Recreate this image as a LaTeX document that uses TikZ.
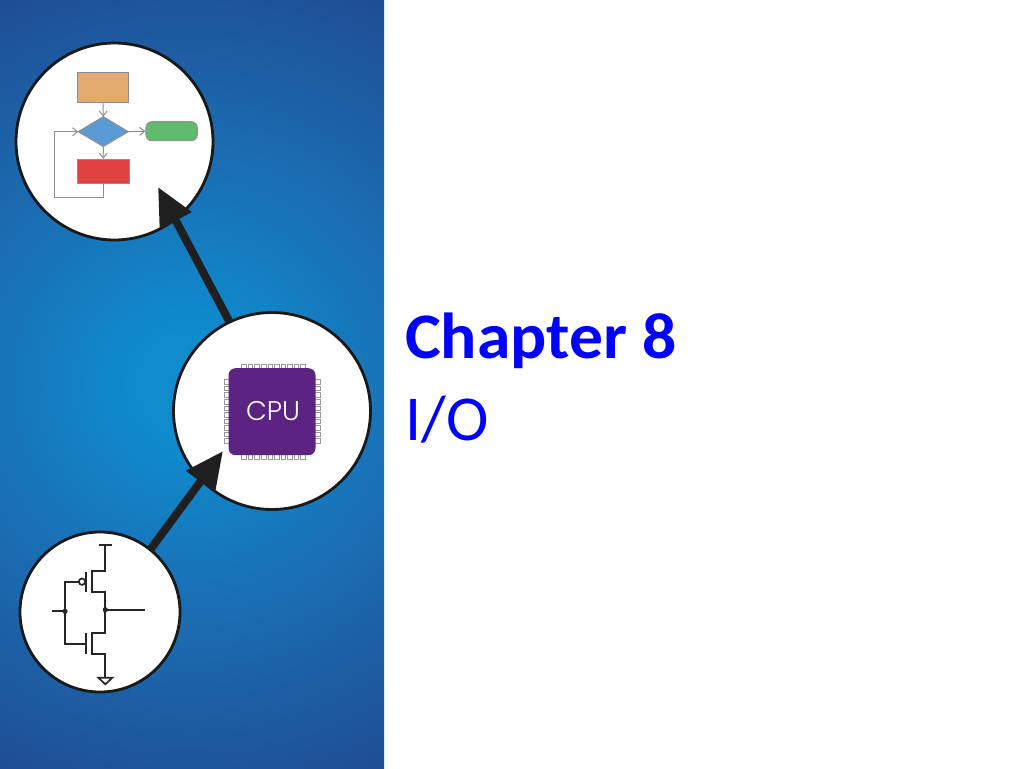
\documentclass[tikz,border=0pt]{standalone}
\usepackage{fontspec}
\setmainfont{Carlito}
\newfontfamily\titlefont[FakeStretch=1.04]{Carlito}
\newfontfamily\chipfont[UprightFont=* Light]{Poppins}
\usetikzlibrary{arrows.meta}
\definecolor{panelin}{HTML}{0E8CCE}
\definecolor{panelmid}{HTML}{1A70B5}
\definecolor{panelout}{HTML}{1F4E96}
\definecolor{flowline}{HTML}{8E8E8E}
\definecolor{chip}{HTML}{5C2482}
\definecolor{pin}{HTML}{FFFFFF}
\pgfdeclareradialshading{panelshade}{\pgfpoint{0bp}{0bp}}{color(0bp)=(panelin);color(3bp)=(panelin);color(12bp)=(panelmid);color(24bp)=(panelout);color(100bp)=(panelout)}
\tikzset{
 x=1pt,y=-1pt,
 disc/.style={circle,draw=black!90,line width=2.8pt,fill=white,inner sep=0pt,minimum size=#1},
 bigarrow/.style={line width=8pt,draw=black!88,-{Triangle[length=38pt,width=34pt,fill=black!88]}},
 flow/.style={draw=flowline,line width=1pt},
 flowarrow/.style={flow,-{Straight Barb[length=5pt,width=8pt]}},
 fbox/.style={draw=flowline,line width=1pt,inner sep=0pt},
 cmos/.style={draw=black!85,line width=1.7pt},
 pinbox/.style={draw=black!40,fill=pin,line width=.8pt,inner sep=0pt},
}
\begin{document}
\begin{tikzpicture}
\useasboundingbox (0,0) rectangle (1024,768);
\fill[white] (0,0) rectangle (1024,768);
\begin{scope}
\clip (0,0) rectangle (384,768);
\path[shading=panelshade] (-250,-56) rectangle (630,824);
\end{scope}
% circles
\node[disc=197pt] (top) at (114.5,141.5) {};
\node[disc=197pt] (mid) at (272,411) {};
\node[disc=160pt] (low) at (100,612) {};
% flowchart
\node[fbox,fill={rgb,255:red,227;green,170;blue,110},minimum width=51.4pt,minimum height=30.4pt] (start) at (103,87.5) {};
\path[fbox,fill={rgb,255:red,91;green,155;blue,213}] (78.3,131.7) -- (103.3,116.7) -- (128.3,131.7) -- (103.3,146.5) -- cycle;
\coordinate (dl) at (78.3,131.7);\coordinate (dr) at (128.3,131.7);\coordinate (dt) at (103.3,116.7);\coordinate (db) at (103.3,146.5);
\node[fbox,fill={rgb,255:red,98;green,187;blue,109},rounded corners=6pt,minimum width=51.3pt,minimum height=19pt] (done) at (171.6,131.2) {};
\node[fbox,fill={rgb,255:red,226;green,66;blue,63},minimum width=51.7pt,minimum height=23.7pt] (act) at (103.2,171.2) {};
\draw[flowarrow] (start.south) -- (dt);
\draw[flowarrow] (dr) -- (done.west);
\draw[flowarrow] (db) -- (act.north);
\draw[flowarrow] (act.south) |- (54,197.5) -- (54,131.7) -- (dl);
% chip
\foreach \i in {0,...,9}{
 \pgfmathsetmacro\p{244+\i*6.55}
 \node[pinbox,minimum width=4.6pt,minimum height=6pt] at (\p,367) {};
 \node[pinbox,minimum width=4.6pt,minimum height=6pt] at (\p,456) {};
 \node[pinbox,minimum width=6pt,minimum height=4.6pt] at (227,\p+138) {};
 \node[pinbox,minimum width=6pt,minimum height=4.6pt] at (317,\p+138) {};
}
\node[fill=chip,rounded corners=7pt,inner sep=0pt,minimum width=87pt,minimum height=87pt] (cpu) at (272,411.7) {};
\node[text=white,font=\chipfont\fontsize{27}{27}\selectfont] (cpulabel) at (273,411) {CPU};
% CMOS
\draw[cmos] (99,545) -- (111.7,545);
\draw[cmos] (105.3,545) -- (105.3,571) -- (92.3,571) -- (92.3,591.7) -- (105.3,591.7) -- (105.3,633.3) -- (92.3,633.3) -- (92.3,654.3) -- (105.3,654.3) -- (105.3,677.7);
\draw[cmos] (98.3,677.7) -- (112.3,677.7) -- (105.3,684.3) -- cycle;
\draw[cmos] (105.3,609.7) -- (145,609.7);
\draw[cmos] (86,571.7) -- (86,591.7);
\draw[cmos] (86,633.3) -- (86,654.3);
\draw[cmos] (82,581.7) circle[radius=3.2];
\draw[cmos] (78.8,581.7) -- (65,581.7) -- (65,644.3) -- (86,644.3);
\draw[cmos] (52.3,611.3) -- (65,611.3);
\fill[black!85] (65,611.3) circle[radius=2.6] (105.3,609.7) circle[radius=2.6];
% arrows
\coordinate (a1s) at (229,321);\coordinate (a1e) at (158,187);
\coordinate (a2s) at (150,550);\coordinate (a2e) at (223,451);
\draw[bigarrow] (a1s) -- (a1e);
\draw[bigarrow] (a2s) -- (a2e);
% title
\node[anchor=base west,inner sep=0pt,text={rgb,255:red,0;green,0;blue,255},font=\titlefont\fontsize{65}{65}\selectfont\bfseries] (title) at (405,358) {Chapter 8};
\node[anchor=base west,inner sep=0pt,text={rgb,255:red,0;green,0;blue,255},font=\fontsize{64}{64}\selectfont] (sub) at (405,440) {I/O};
\end{tikzpicture}
\end{document}
